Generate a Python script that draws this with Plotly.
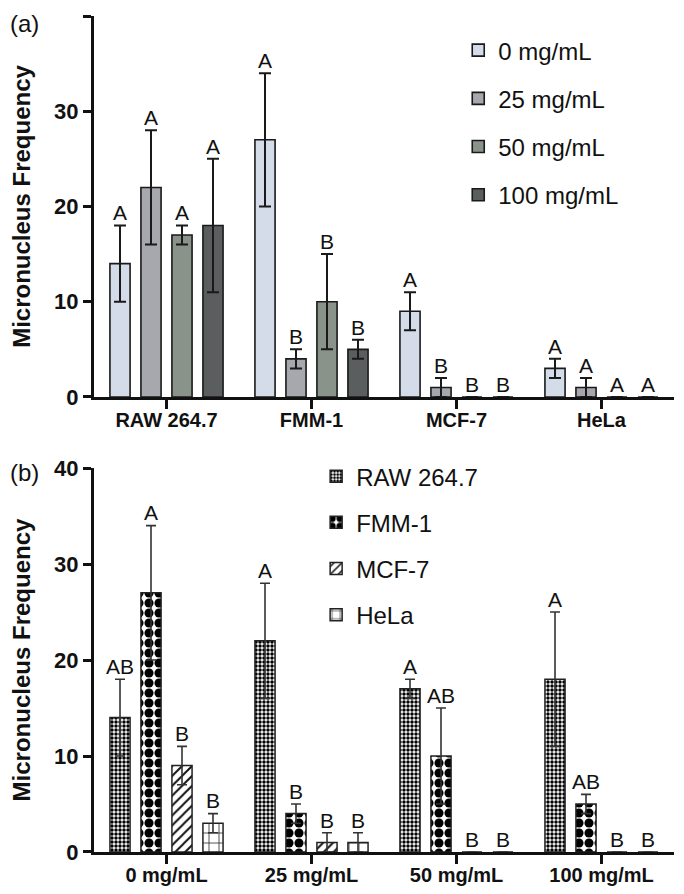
import plotly.graph_objects as go

# ---------------- data ----------------
cells = ["RAW 264.7", "FMM-1", "MCF-7", "HeLa"]
doses = ["0 mg/mL", "25 mg/mL", "50 mg/mL", "100 mg/mL"]

# mean micronucleus frequency, per cell line, per dose (0, 25, 50, 100 mg/mL)
raw_mean = [14, 22, 17, 18]
fmm_mean = [27, 4, 10, 5]
mcf_mean = [9, 1, 0, 0]
hela_mean = [3, 1, 0, 0]
raw_sd = [4, 6, 1, 7]
fmm_sd = [7, 1, 5, 1]
mcf_sd = [2, 1, 0, 0]
hela_sd = [1, 1, 0, 0]

# significance letters
letters_a = [  # per cell line (group in panel a), per dose
    ["A", "A", "A", "A"],
    ["A", "B", "B", "B"],
    ["A", "B", "B", "B"],
    ["A", "A", "A", "A"],
]
letters_b = [  # per dose (group in panel b), per cell line
    ["AB", "A", "B", "B"],
    ["A", "B", "B", "B"],
    ["A", "AB", "B", "B"],
    ["A", "AB", "B", "B"],
]

means = [raw_mean, fmm_mean, mcf_mean, hela_mean]
sds = [raw_sd, fmm_sd, mcf_sd, hela_sd]

# ---------------- styles ----------------
FONT = "Arial, 'Liberation Sans', sans-serif"
dose_colors = ["#d4dbe9", "#a7a7ae", "#8a9389", "#5b5e5e"]
cell_patterns = [
    dict(shape=".", size=4, solidity=0.6, fgcolor="#000000", bgcolor="white", fgopacity=1),
    dict(shape=".", size=10, solidity=0.65, fgcolor="#000000", bgcolor="white", fgopacity=1),
    dict(shape="/", size=7, solidity=0.28, fgcolor="#111111", bgcolor="white", fgopacity=1),
    dict(shape="+", size=10, solidity=0.14, fgcolor="#111111", bgcolor="white", fgopacity=1),
]

fig = go.Figure()

# ---------------- panel (a): grouped by cell line, series = dose ----------------
for j, dose in enumerate(doses):
    yv = [means[i][j] for i in range(len(cells))]
    ev = [sds[i][j] for i in range(len(cells))]
    fig.add_trace(go.Bar(
        x=cells, y=yv, name=dose,
        marker=dict(color=dose_colors[j], line=dict(color="#1a1a1a", width=1.6)),
        error_y=dict(type="data", array=ev, visible=True, color="#1a1a1a",
                     thickness=2, width=6),
        xaxis="x", yaxis="y", legend="legend", legendgroup="a%d" % j,
    ))
for j, dose in enumerate(doses):
    yv = [means[i][j] + sds[i][j] for i in range(len(cells))]
    fig.add_trace(go.Scatter(
        x=cells, y=yv, mode="text",
        text=[letters_a[i][j] for i in range(len(cells))],
        textposition="top center",
        textfont=dict(family=FONT, size=21, color="#111111"),
        showlegend=False, cliponaxis=False, hoverinfo="skip",
        xaxis="x", yaxis="y",
    ))

# ---------------- panel (b): grouped by dose, series = cell line ----------------
for i, cell in enumerate(cells):
    fig.add_trace(go.Bar(
        x=doses, y=means[i], name=cell,
        marker=dict(color="white", pattern=cell_patterns[i],
                    line=dict(color="#222222", width=1.5)),
        error_y=dict(type="data", array=sds[i], visible=True, color="#333333",
                     thickness=1.6, width=5),
        xaxis="x2", yaxis="y2", legend="legend2", legendgroup="b%d" % i,
    ))
for i, cell in enumerate(cells):
    fig.add_trace(go.Scatter(
        x=doses, y=[m + s for m, s in zip(means[i], sds[i])], mode="text",
        text=[letters_b[k][i] for k in range(len(doses))],
        textposition="top center",
        textfont=dict(family=FONT, size=21, color="#111111"),
        showlegend=False, cliponaxis=False, hoverinfo="skip",
        xaxis="x2", yaxis="y2",
    ))

yaxis_style = dict(
    range=[0, 40], dtick=10, showgrid=False, zeroline=False,
    showline=True, linecolor="#111111", linewidth=3,
    ticks="outside", ticklen=8, tickwidth=3, tickcolor="#111111",
    tickfont=dict(family=FONT, size=22, color="#111111", weight="bold"),
    title=dict(text="Micronucleus Frequency", standoff=24,
               font=dict(family=FONT, size=24, color="#111111", weight="bold")),
    automargin=False,
)
xaxis_style = dict(
    type="category", showgrid=False, zeroline=False,
    showline=True, linecolor="#111111", linewidth=3,
    ticks="outside", ticklen=9, tickwidth=3, tickcolor="#111111",
    tickfont=dict(family=FONT, size=20, color="#111111", weight="bold"),
    ticklabelstandoff=-6,
    automargin=False,
)

legend_common = dict(
    font=dict(family=FONT, size=24, color="#111111"),
    bgcolor="rgba(0,0,0,0)", borderwidth=0,
    traceorder="grouped",
    xanchor="left", yanchor="top",
)

fig.update_layout(
    width=668, height=878,
    margin=dict(l=86, r=2, t=8, b=34),
    paper_bgcolor="white", plot_bgcolor="white",
    barmode="group", bargap=0.145, bargroupgap=0.35,
    scattermode="group", scattergap=0.145,
    xaxis=dict(anchor="y", domain=[0, 1], **xaxis_style),
    yaxis=dict(anchor="x", domain=[0.5443, 1.0], **yaxis_style),
    xaxis2=dict(anchor="y2", domain=[0, 1], **xaxis_style),
    yaxis2=dict(anchor="x2", domain=[0.0, 0.4593], **yaxis_style),
    legend=dict(x=0.628, y=0.9856, tracegroupgap=14, **legend_common),
    legend2=dict(x=0.383, y=0.476, tracegroupgap=12, **legend_common),
    showlegend=True,
    annotations=[
        dict(text="(a)", x=-0.1483, y=1.0096, xref="paper", yref="paper",
             xanchor="left", yanchor="top", showarrow=False,
             font=dict(family=FONT, size=24, color="#111111")),
        dict(text="(b)", x=-0.1483, y=0.4545, xref="paper", yref="paper",
             xanchor="left", yanchor="middle", showarrow=False,
             font=dict(family=FONT, size=24, color="#111111")),
    ],
)

fig.write_html("out.html")
